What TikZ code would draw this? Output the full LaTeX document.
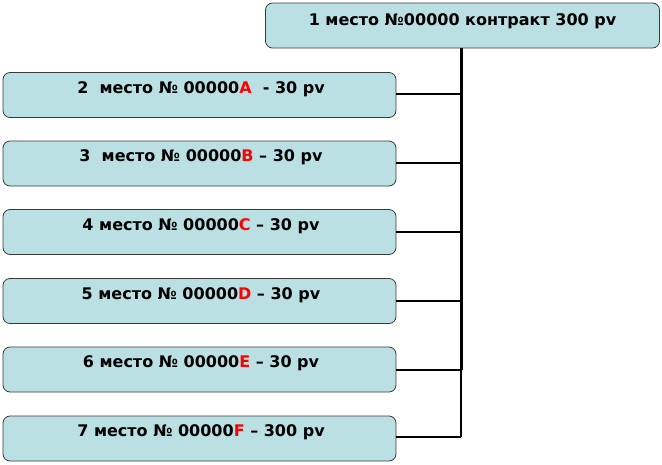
\documentclass[tikz,border=0pt]{standalone}
\usepackage{fontspec}
\setmainfont{DejaVu Sans}
\definecolor{boxfill}{HTML}{BBE0E3}
\definecolor{boxedge}{HTML}{3A3A3A}
\definecolor{lettred}{HTML}{FF0000}
\tikzset{
  place/.style={draw=boxedge, line width=0.8pt, fill=boxfill, rounded corners=7pt,
    minimum width=393pt, minimum height=45pt, inner sep=0pt},
  lbl/.style={font=\bfseries\fontsize{16}{18}\selectfont, text=black},
  link/.style={line width=2pt, black},
  trunk/.style={line width=3pt, black}
}
\newcommand{\rl}[1]{\textcolor{lettred}{#1}}
\begin{document}
\begin{tikzpicture}[x=1pt,y=-1pt]
\useasboundingbox (0,0) rectangle (662,464);
\node[place, minimum width=394pt] (p1) at (462.5,25.5) {};
\node[lbl] (t1) at (462.5,21) {1 место №00000 контракт 300 pv};
\foreach \n/\y in {2/95,3/163.5,4/232,5/301,6/369.5,7/438.5}{
  \node[place] (p\n) at (199.5,\y) {};
}
\node[lbl] (t2) at (201,89) {2\ \ место № 00000\rl{A}\ \ - 30 pv};
\node[lbl] (t3) at (201,157.5) {3\ \ место № 00000\rl{B} – 30 pv};
\node[lbl] (t4) at (201,226) {4 место № 00000\rl{C} – 30 pv};
\node[lbl] (t5) at (201,295) {5 место № 00000\rl{D} – 30 pv};
\node[lbl] (t6) at (201,363.5) {6 место № 00000\rl{E} – 30 pv};
\node[lbl] (t7) at (201,432.5) {7 место № 00000\rl{F} – 300 pv};
\coordinate (j6) at (461,370);
\coordinate (j7) at (461,437);
\draw[trunk] (p1.south -| j6) -- (j6);
\draw[link] (j6) -- (j7);
\foreach \n/\y in {2/94,3/163,4/232,5/301,6/370,7/437}{
  \coordinate (c\n) at (461,\y);
  \draw[link] (p\n.east |- c\n) -- (c\n);
}
\end{tikzpicture}
\end{document}
